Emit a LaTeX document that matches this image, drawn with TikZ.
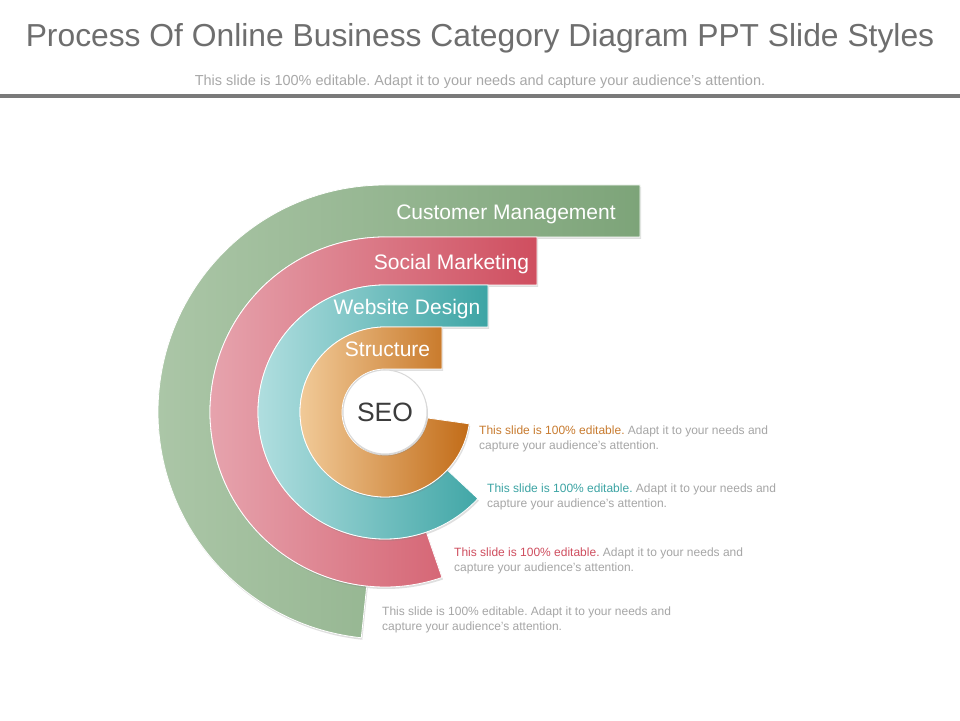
\documentclass[tikz,border=0pt]{standalone}
\usepackage{fontspec}
\setmainfont{Liberation Sans}
\frenchspacing
\usetikzlibrary{calc,shadows}
\definecolor{greenL}{HTML}{ABC6A7}
\definecolor{greenD}{HTML}{7DA479}
\definecolor{pinkL}{HTML}{E6A3AD}
\definecolor{pinkD}{HTML}{CF4E5F}
\definecolor{tealL}{HTML}{B0DEDF}
\definecolor{tealD}{HTML}{3CA4A4}
\definecolor{orangeL}{HTML}{F1CA98}
\definecolor{orangeD}{HTML}{C26C18}
\definecolor{titleGray}{HTML}{6E6E6E}
\definecolor{subGray}{HTML}{A8A8A8}
\definecolor{ruleGray}{HTML}{7A7A7A}
\definecolor{noteGray}{HTML}{A6A6A6}
\definecolor{seoGray}{HTML}{3C3C3C}
\tikzset{
  ring/.style={draw=white, line width=0.8pt,
    drop shadow={opacity=0.25, shadow xshift=1pt, shadow yshift=-2pt}},
  barlabel/.style={anchor=base, text=white, font=\fontsize{21}{25}\selectfont},
  note/.style={anchor=north west, align=left, inner sep=0pt, text=noteGray,
    font=\fontsize{12}{14.5}\selectfont},
}
\begin{document}
\begin{tikzpicture}[x=1pt, y=1pt]
\fill[white] (0,0) rectangle (960,720);
\useasboundingbox (0,0) rectangle (960,720);
\coordinate (C) at (385,308);
% heading
\node[anchor=base, text=titleGray, font=\fontsize{31.8}{36}\selectfont] (title) at (480,673) {Process Of Online Business Category Diagram PPT Slide Styles};
\node[anchor=base, text=subGray, font=\fontsize{14.5}{17}\selectfont] (subtitle) at (480,634) {This slide is 100\% editable. Adapt it to your needs and capture your audience's attention.};
\fill[ruleGray] (0,622) rectangle (960,626);
% rings, outermost first
\shade[ring, left color=greenL, right color=greenD] (640,535) -- (385,535) arc[start angle=90, end angle=264, radius=227] -- ($(C)+(264:175)$) arc[start angle=264, end angle=90, radius=175] -- (640,483) -- cycle;
\shade[ring, left color=pinkL, right color=pinkD] (537,483) -- (385,483) arc[start angle=90, end angle=289, radius=175] -- ($(C)+(289:127)$) arc[start angle=289, end angle=90, radius=127] -- (537,435) -- cycle;
\shade[ring, left color=tealL, right color=tealD] (488,435) -- (385,435) arc[start angle=90, end angle=317, radius=127] -- ($(C)+(317:85)$) arc[start angle=317, end angle=90, radius=85] -- (488,393) -- cycle;
\shade[ring, left color=orangeL, right color=orangeD] (442,393) -- (385,393) arc[start angle=90, end angle=352, radius=85] -- ($(C)+(352:43)$) arc[start angle=352, end angle=90, radius=43] -- (442,351) -- cycle;
\node[circle, fill=white, draw=white!85!black, line width=1pt, minimum size=84pt, text=seoGray, font=\fontsize{26.5}{30}\selectfont, drop shadow={opacity=0.3, shadow xshift=1pt, shadow yshift=-2pt}] (seo) at (C) {SEO};
% labels on the bars
\node[barlabel] (cm) at (506,500.5) {Customer Management};
\node[barlabel] (sm) at (451.5,450) {Social Marketing};
\node[barlabel] (wd) at (407,405) {Website Design};
\node[barlabel] (st) at (387.5,363) {Structure};
% notes
\node[note] (note1) at (479,294) {\textcolor{orangeD!90}{This slide is 100\% editable.} Adapt it to your needs and\\capture your audience's attention.};
\node[note] (note2) at (487,236) {\textcolor{tealD}{This slide is 100\% editable.} Adapt it to your needs and\\capture your audience's attention.};
\node[note] (note3) at (454,172) {\textcolor{pinkD}{This slide is 100\% editable.} Adapt it to your needs and\\capture your audience's attention.};
\node[note] (note4) at (382,113) {This slide is 100\% editable. Adapt it to your needs and\\capture your audience's attention.};
\end{tikzpicture}
\end{document}
